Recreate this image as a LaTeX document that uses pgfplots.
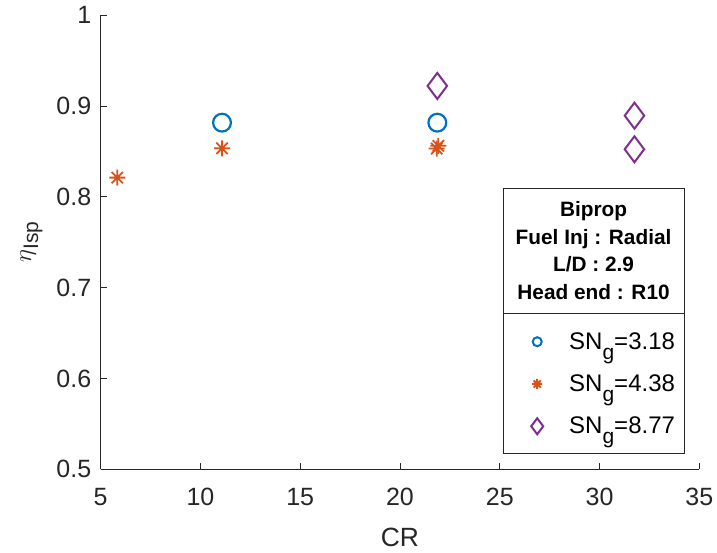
\documentclass[border=0pt]{standalone}
\usepackage{fontspec}
\setmainfont{Liberation Sans}
\usepackage{pgfplots}
\pgfplotsset{compat=1.18}
\usetikzlibrary{plotmarks}
\definecolor{mlblue}{rgb}{0,0.447,0.741}
\definecolor{mlorange}{rgb}{0.85,0.325,0.098}
\definecolor{mlpurple}{rgb}{0.494,0.184,0.556}
\definecolor{axgray}{rgb}{0.15,0.15,0.15}
\pgfdeclareplotmark{mlast}{%
 \pgfpathmoveto{\pgfqpoint{0pt}{\pgfplotmarksize}}\pgfpathlineto{\pgfqpoint{0pt}{-\pgfplotmarksize}}%
 \pgfpathmoveto{\pgfqpoint{\pgfplotmarksize}{0pt}}\pgfpathlineto{\pgfqpoint{-\pgfplotmarksize}{0pt}}%
 \pgfpathmoveto{\pgfqpoint{.7071\pgfplotmarksize}{.7071\pgfplotmarksize}}\pgfpathlineto{\pgfqpoint{-.7071\pgfplotmarksize}{-.7071\pgfplotmarksize}}%
 \pgfpathmoveto{\pgfqpoint{.7071\pgfplotmarksize}{-.7071\pgfplotmarksize}}\pgfpathlineto{\pgfqpoint{-.7071\pgfplotmarksize}{.7071\pgfplotmarksize}}%
 \pgfusepathqstroke}
\newcommand\sng[1]{SN\raisebox{-10pt}{\fontsize{21}{21}\selectfont g}=#1}
\begin{document}
\begin{tikzpicture}
\begin{axis}[
  scale only axis, width=598.6pt, height=454.3pt,
  xmin=5, xmax=35, ymin=0.5, ymax=1,
  xtick={5,10,15,20,25,30,35}, ytick={0.5,0.6,0.7,0.8,0.9,1},
  yticklabel style={/pgf/number format/fixed, xshift=-6pt},
  axis x line*=bottom, axis y line*=left,
  axis line style={axgray, line width=0.7pt},
  tick style={axgray, line width=0.7pt},
  major tick length=6pt,
  tick align=inside,
  tick label style={font=\fontsize{25}{29}\selectfont, text=axgray},
  xticklabel style={yshift=-15pt},
  /pgf/number format/assume math mode=true,
  xlabel={CR},
  xlabel style={at={(axis description cs:0.5,0)}, anchor=base, yshift=-77.4pt},
  label style={font=\fontsize{26.4}{30}\selectfont, text=axgray},
  clip=false,
  legend style={draw=none, fill=none, at={(axis description cs:0.7122,0.1878)}, anchor=west,
    font=\fontsize{24}{28}\selectfont, row sep=20pt, column sep=20pt, inner sep=0pt,
    cells={anchor=west}},
  legend image code/.code={\path[draw=none,fill=none] (-10pt,-5pt) rectangle (10pt,5pt); \draw[#1] plot coordinates {(0pt,0pt)};},
]
\coordinate (SW) at (axis cs:5,0.5);
\node[rotate=90, anchor=base, font=\fontsize{26.4}{30}\selectfont, text=axgray] at (axis description cs:-0.1164,0.5)
  {{\fontsize{30}{30}\selectfont$\eta$}\raisebox{-7pt}{\fontsize{21}{21}\selectfont Isp}};
\draw[axgray, line width=0.7pt, fill=white] (axis cs:25.16,0.518) rectangle (axis cs:34.23,0.8096);
\draw[axgray, line width=0.7pt] (axis cs:25.16,0.672) -- (axis cs:34.23,0.672);
\node[align=center, font=\bfseries\fontsize{20.8}{27.5}\selectfont, text=black] at (axis cs:29.70,0.7408) {Biprop\\Fuel Inj : Radial\\L/D : 2.9\\Head end : R10};

\addlegendimage{only marks, mark=o, mlblue, line width=2pt, mark size=4.5pt}
\addlegendimage{only marks, mark=mlast, mlorange, line width=2pt, mark size=5pt}
\addlegendimage{only marks, mark=diamond, mlpurple, line width=2pt, mark size=8pt}

\addplot[only marks, mark=o, mlblue, line width=2.2pt, mark size=8.9pt, forget plot] coordinates {
(11.08,0.8815) (21.87,0.8815)};
\addplot[only marks, mark=mlast, mlorange, line width=1.8pt, mark size=8pt, forget plot] coordinates {
(5.83,0.821) (11.08,0.8533) (21.84,0.8530) (21.92,0.8560)};
\addplot[only marks, mark=diamond, mlpurple, line width=2pt, mark size=13pt, forget plot] coordinates {
(21.87,0.9219) (31.75,0.8892) (31.75,0.8522)};
\legend{\sng{3.18},\sng{4.38},\sng{8.77}}
\end{axis}
\pgfresetboundingbox
\path (SW) ++(-100.7pt,-82.7pt) rectangle ++(717pt,552pt);
\end{tikzpicture}
\end{document}
